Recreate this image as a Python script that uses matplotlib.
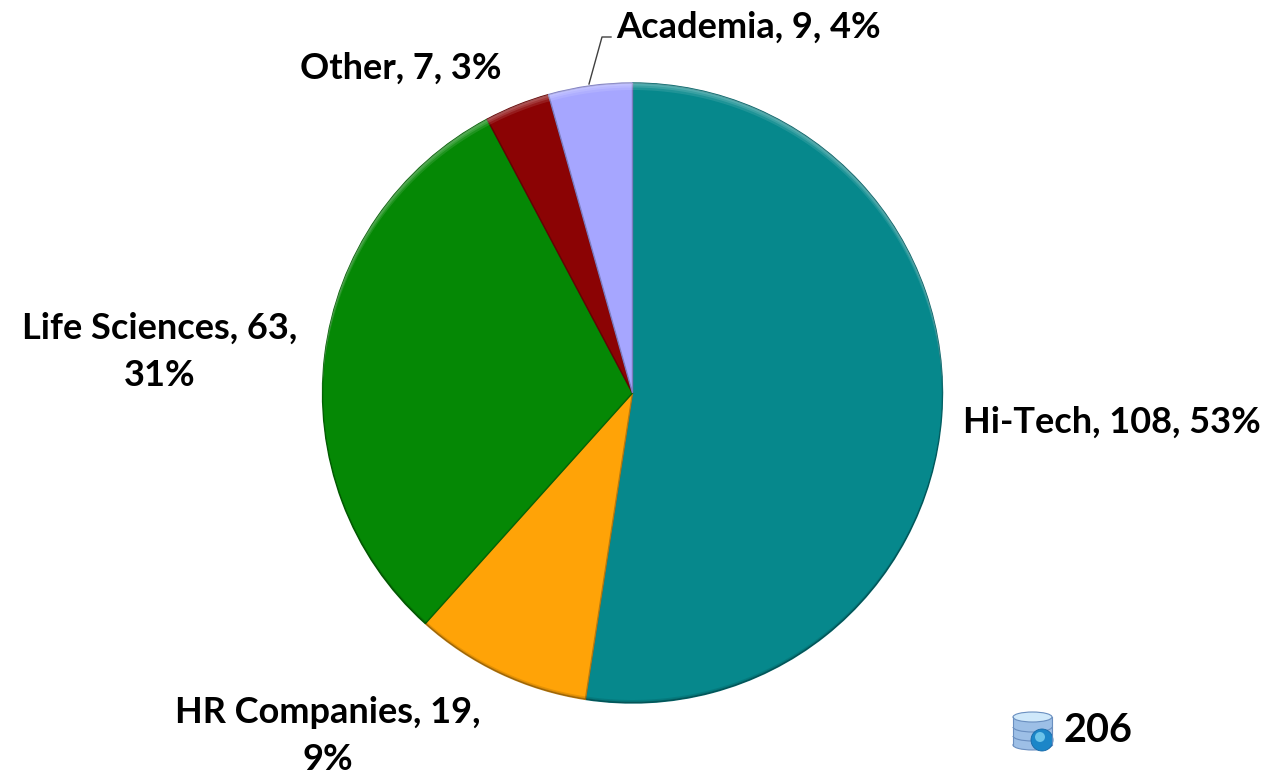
#!/usr/bin/env python3
import numpy as np
import matplotlib
matplotlib.use("Agg")
import matplotlib.pyplot as plt
from matplotlib.patches import Rectangle, Ellipse, Circle, Arc, Polygon

plt.rcParams['font.family'] = ['Lato', 'DejaVu Sans']

# Values, clockwise from 12 o'clock
names = ["Hi-Tech", "HR Companies", "Life Sciences", "Other", "Academia"]
values = [108, 19, 63, 7, 9]
colors = ["#06888C", "#FFA307", "#058805", "#8B0304", "#A6A6FF"]
edges = ["#056468", "#B87A10", "#046404", "#640202", "#7C7CC0"]
labels = ["Hi-Tech, 108, 53%", "HR Companies, 19,\n9%", "Life Sciences, 63,\n31%",
          "Other, 7, 3%", "Academia, 9, 4%"]
total_label = "206"

W, H = 1274, 776
fig = plt.figure(figsize=(W / 100, H / 100), dpi=100)
ax = fig.add_axes([0, 0, 1, 1])

def Y(y):
    # picture rows run downwards, the axes run upwards
    return H - y

def crescent(xc, yc, radius, d, top=True):
    # area of the circle left over when the same circle is moved by d
    a = np.arcsin(d / (2 * radius))
    t = np.linspace(-a, np.pi + a, 200)
    sign = 1 if top else -1
    outer = np.column_stack([xc + radius * np.cos(t), yc + sign * radius * np.sin(t)])
    inner = np.column_stack([xc + radius * np.cos(t[::-1]), yc + sign * (radius * np.sin(t[::-1]) - d)])
    return np.vstack([outer, inner])

cx, cy, r = 632.5, 393, 310
wedges, _ = ax.pie(values, colors=colors, startangle=90, counterclock=False, center=(cx, Y(cy)),
                   radius=r, frame=False, wedgeprops=dict(linewidth=1.0))
for w, e in zip(wedges, edges):
    w.set_edgecolor(e)
ax.set_xlim(0, W)
ax.set_ylim(0, H)
ax.set_aspect("equal")
ax.axis("off")

# soft bevel: light along the top of the pie, a little dark along the bottom
for d, al in [(7, 0.10), (4.5, 0.12), (2.5, 0.12)]:
    ax.add_patch(Polygon(crescent(cx, Y(cy), r, d), facecolor="white", edgecolor="none", alpha=al, zorder=3))
for d, al in [(3, 0.10), (1.5, 0.15)]:
    ax.add_patch(Polygon(crescent(cx, Y(cy), r, d, top=False), facecolor="black", edgecolor="none", alpha=al, zorder=3))

lab_pos = [(1112, 422), (328, 736), (160, 352), (401, 68), (749, 27)]
for s, (x, y) in zip(labels, lab_pos):
    ax.text(x, Y(y), s, ha="center", va="center", fontsize=26, fontweight="bold",
            color="black", linespacing=1.5)

# leader line for Academia
ax.plot([589, 602, 611], [Y(84), Y(37), Y(37)], color="#404040", lw=1)

# database icon
ic = "#9DBFE6"
ln = "#6A8FC0"
ax.add_patch(Ellipse((1032.5, Y(745)), 39, 10, facecolor=ic, edgecolor=ln, lw=0.8))
ax.add_patch(Rectangle((1013.5, Y(745)), 38, 28, facecolor=ic, edgecolor="none"))
ax.plot([1013, 1013], [Y(717), Y(745)], color=ln, lw=0.8)
ax.plot([1052, 1052], [Y(717), Y(745)], color=ln, lw=0.8)
for by in (727, 736):
    ax.add_patch(Arc((1032.5, Y(by)), 39, 10, theta1=180, theta2=360, color=ln, lw=0.8))
ax.add_patch(Ellipse((1032.5, Y(717)), 39, 10, facecolor="#CFE8FA", edgecolor=ln, lw=0.8))
ax.add_patch(Circle((1042, Y(740)), 11, facecolor="#1C86C8", edgecolor="#1668A8", lw=0.6))
ax.add_patch(Circle((1040, Y(737)), 5, facecolor="#6CC4EA", edgecolor="none"))
ax.text(1098, Y(730), total_label, ha="center", va="center", fontsize=28.5, fontweight="bold")

fig.savefig("out.png", dpi=100)
